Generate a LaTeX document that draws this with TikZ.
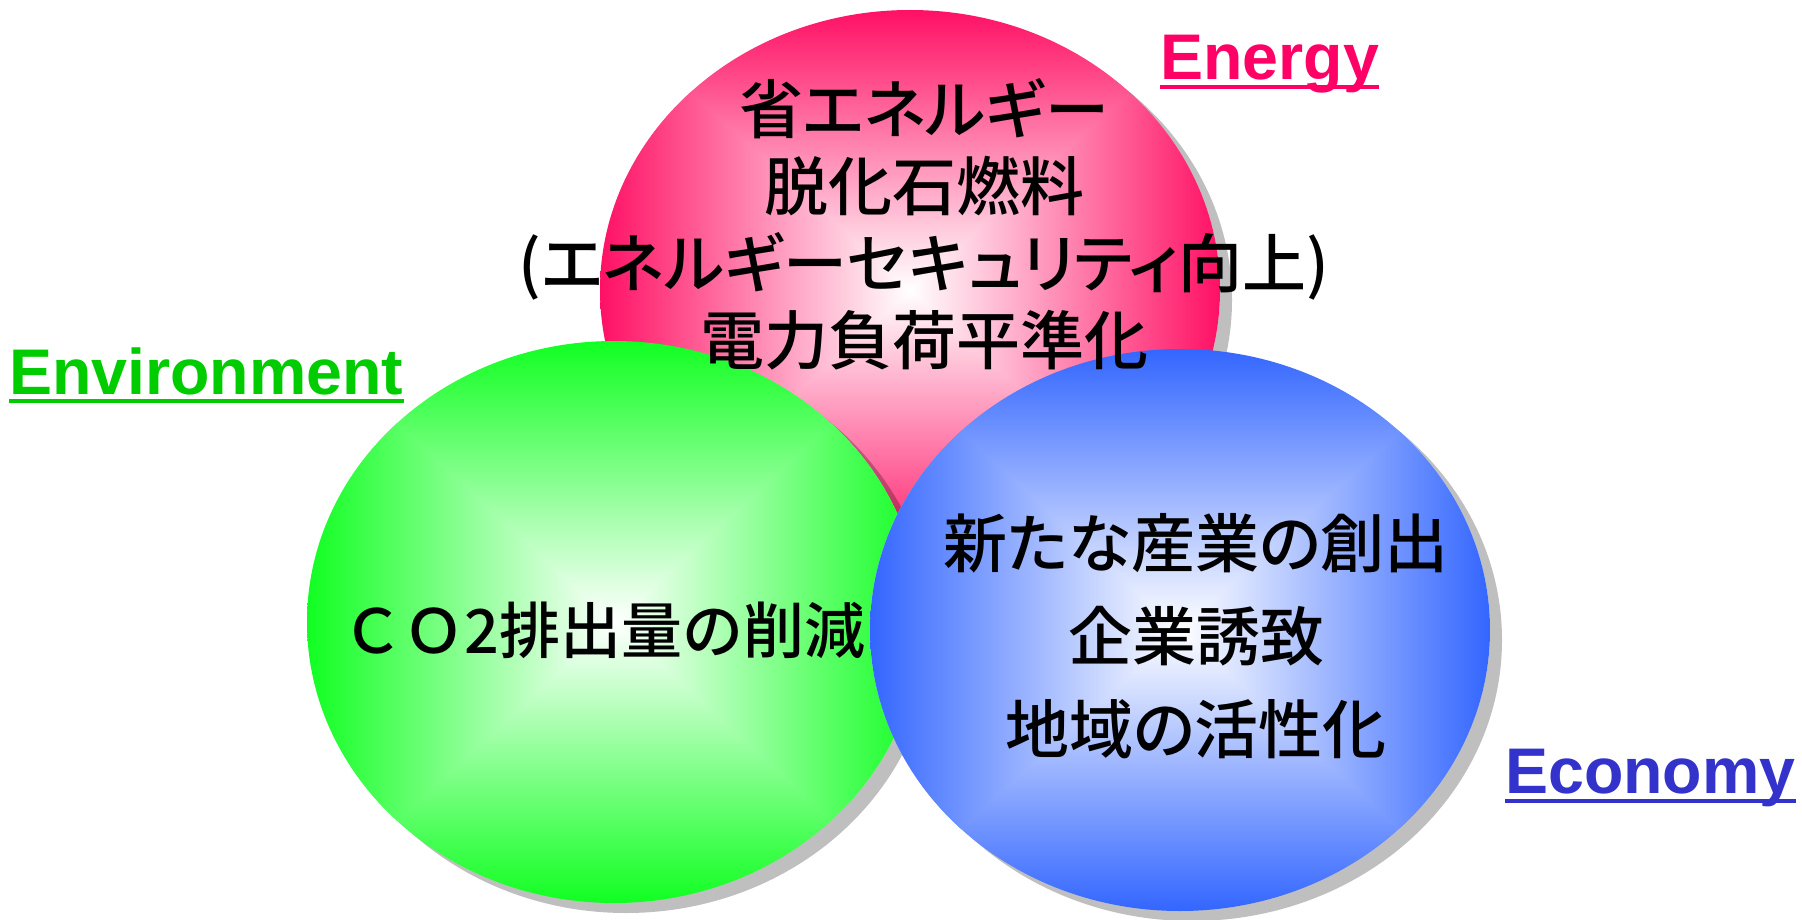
\documentclass[tikz,border=0pt]{standalone}
\usepackage{fontspec}
\setmainfont{Liberation Sans}
\newfontfamily\jp{Noto Sans CJK JP Medium}[RawFeature=+palt]
\newfontfamily\jpfull{Noto Sans CJK JP Medium}
\definecolor{redrim}{RGB}{255,16,100}
\definecolor{greenrim}{RGB}{17,255,34}
\definecolor{bluerim}{RGB}{51,102,255}
\definecolor{energycol}{RGB}{255,0,102}
\definecolor{envcol}{RGB}{0,204,0}
\definecolor{ecocol}{RGB}{51,51,204}
\newcommand\gradell[5]{%
  \fill[shadowfill] ({#1+12},{#2+10}) ellipse [x radius=#3, y radius=#4];
  \begin{scope}
    \clip (#1,#2) ellipse [x radius=#3, y radius=#4];
    \shade[top color=#5, bottom color=#5, middle color=white] ({#1-#3},{#2-#4}) rectangle ({#1+#3},{#2+#4});
    \clip (#1,#2) -- ({#1-#3},{#2-#4}) -- ({#1-#3},{#2+#4}) -- cycle
          (#1,#2) -- ({#1+#3},{#2-#4}) -- ({#1+#3},{#2+#4}) -- cycle;
    \shade[left color=#5, right color=#5, middle color=white] ({#1-#3},{#2-#4}) rectangle ({#1+#3},{#2+#4});
  \end{scope}}
\begin{document}
\begin{tikzpicture}[x=1pt,y=-1pt,
  shadowfill/.style={fill=black, opacity=0.25},
  jptext/.style={font=\jp\fontsize{64}{77}\selectfont, align=center, inner sep=0pt},
  lab/.style={font=\bfseries\fontsize{64.5}{70}\selectfont, inner sep=0pt, anchor=base west},
  uline/.style={line width=4pt}]
\useasboundingbox (0,0) rectangle (1802,920);
% ellipses
\gradell{910}{290}{310}{280}{redrim}
\gradell{614}{622}{307}{281}{greenrim}
\gradell{1180}{630}{310}{281}{bluerim}
% texts
\node[jptext] (etext) at (924,224) {省エネルギー\\脱化石燃料\\(エネルギーセキュリティ向上)\\電力負荷平準化};
\node[jptext, font=\jpfull\fontsize{61}{77}\selectfont] (gtext) at (604,630) {ＣＯ2排出量の削減};
\node[jptext, font=\jp\fontsize{64}{93}\selectfont] (btext) at (1196,636) {新たな産業の創出\\企業誘致\\地域の活性化};
% labels
\node[lab, text=energycol] (energy) at (1160,80) {Energy};
\draw[energycol, uline] ([yshift=-7pt]energy.base west) -- ([yshift=-7pt]energy.base east);
\node[lab, text=envcol] (env) at (9,394) {Environment};
\draw[envcol, uline] ([yshift=-7pt]env.base west) -- ([yshift=-7pt]env.base east);
\node[lab, text=ecocol] (eco) at (1505,793) {Economy};
\draw[ecocol, uline] ([yshift=-8pt]eco.base west) -- ([yshift=-8pt]eco.base east);
\end{tikzpicture}
\end{document}
